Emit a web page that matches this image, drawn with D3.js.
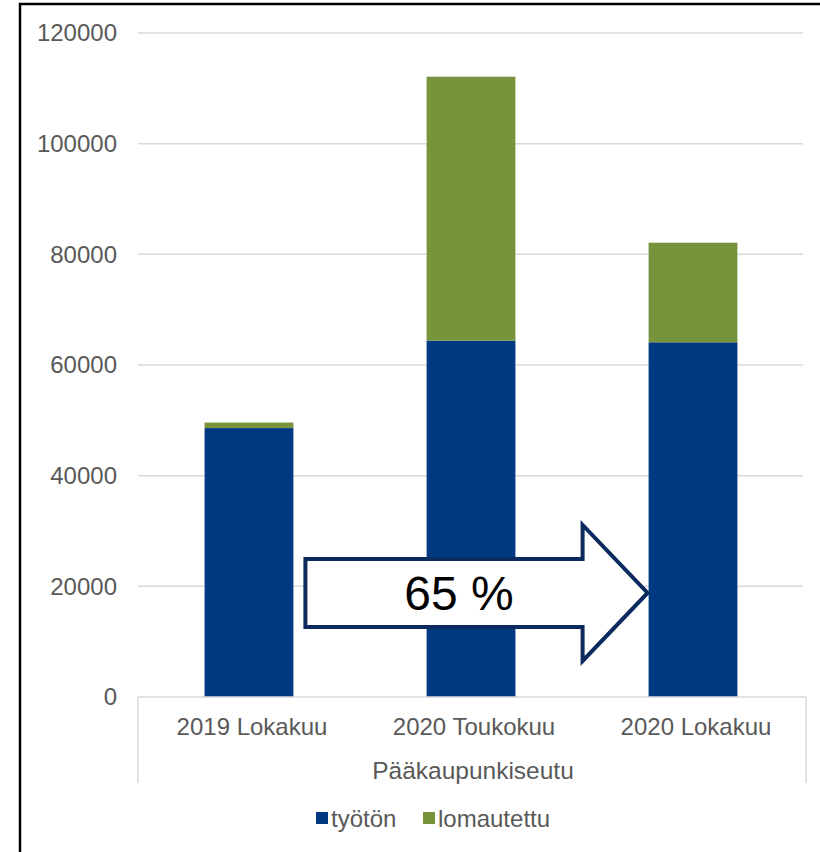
<!DOCTYPE html>
<html>
<head>
<meta charset="utf-8">
<style>
  body { margin: 0; background: #fff; }
  text { font-family: "Liberation Sans", Arial, sans-serif; }
</style>
</head>
<body>
<script src="https://cdn.jsdelivr.net/npm/d3@7"></script>
<script>
// data
var categories = ["2019 Lokakuu", "2020 Toukokuu", "2020 Lokakuu"];
var tyoton = [48600, 64400, 64100];
var lomautettu = [1000, 47700, 18000];
var seriesNames = ["työtön", "lomautettu"];
var yTicks = [0, 20000, 40000, 60000, 80000, 100000, 120000];
var groupLabel = "Pääkaupunkiseutu";
var arrowLabel = "65 %";
var arrowLevel = 18800;

var W = 820, H = 852;
var colors = ["#003882", "#77933c"];
var textColor = "#595959";

var svg = d3.select("body").append("svg")
  .attr("width", W).attr("height", H);

// outer frame (left + top visible)
svg.append("rect")
  .attr("x", 20).attr("y", 4)
  .attr("width", W + 10).attr("height", H + 10)
  .attr("fill", "none").attr("stroke", "#000").attr("stroke-width", 2.5);

var x = d3.scaleBand().domain(categories).range([138, 804])
  .paddingInner(0.6).paddingOuter(0.3);
var y = d3.scaleLinear().domain([0, 120000]).range([697, 33]);

// gridlines
svg.append("g").selectAll("line")
  .data(yTicks.slice(1))
  .enter().append("line")
  .attr("x1", 138).attr("x2", 803)
  .attr("y1", function(d) { return y(d); })
  .attr("y2", function(d) { return y(d); })
  .attr("stroke", "#d9d9d9").attr("stroke-width", 1.5);

// y axis labels
var yAxis = svg.append("g").attr("transform", "translate(117,0)")
  .call(d3.axisLeft(y).tickValues(yTicks).tickSize(0).tickPadding(0).tickFormat(d3.format("d")));
yAxis.select(".domain").remove();
yAxis.selectAll("text")
  .attr("font-size", 24).attr("fill", textColor)
  .style("font-family", "'Liberation Sans', Arial, sans-serif");

// stacked bars
var rows = categories.map(function(c, i) {
  return { cat: c, "työtön": tyoton[i], "lomautettu": lomautettu[i] };
});
var stacked = d3.stack().keys(seriesNames)(rows);

svg.append("g").selectAll("g")
  .data(stacked)
  .enter().append("g")
  .attr("fill", function(d, i) { return colors[i]; })
  .selectAll("rect")
  .data(function(d) { return d; })
  .enter().append("rect")
  .attr("x", function(d) { return x(d.data.cat); })
  .attr("width", x.bandwidth())
  .attr("y", function(d) { return y(d[1]); })
  .attr("height", function(d) { return y(d[0]) - y(d[1]); });

// category box (multi-level axis)
var boxLeft = 138, boxRight = 806, boxBottom = 783;
svg.append("line").attr("x1", boxLeft).attr("x2", boxRight)
  .attr("y1", y(0)).attr("y2", y(0))
  .attr("stroke", "#d9d9d9").attr("stroke-width", 1.5);
svg.append("line").attr("x1", boxLeft).attr("x2", boxLeft)
  .attr("y1", y(0)).attr("y2", boxBottom)
  .attr("stroke", "#d9d9d9").attr("stroke-width", 1.5);
svg.append("line").attr("x1", boxRight).attr("x2", boxRight)
  .attr("y1", y(0)).attr("y2", boxBottom)
  .attr("stroke", "#d9d9d9").attr("stroke-width", 1.5);

svg.append("g").selectAll("text")
  .data(categories)
  .enter().append("text")
  .attr("x", function(d) { return x(d) + x.bandwidth() / 2 + 3; })
  .attr("y", 735)
  .attr("text-anchor", "middle")
  .attr("font-size", 24).attr("fill", textColor)
  .text(function(d) { return d; });

svg.append("text")
  .attr("x", (boxLeft + boxRight) / 2 + 1).attr("y", 779)
  .attr("text-anchor", "middle")
  .attr("font-size", 24.5).attr("fill", textColor)
  .text(groupLabel);

// legend
var legendX = [316, 423];
var legend = svg.append("g").selectAll("g")
  .data(seriesNames)
  .enter().append("g")
  .attr("transform", function(d, i) { return "translate(" + legendX[i] + ",812)"; });
legend.append("rect")
  .attr("width", 12).attr("height", 12)
  .attr("fill", function(d, i) { return colors[i]; });
legend.append("text")
  .attr("x", 15).attr("y", 15)
  .attr("font-size", 24).attr("fill", textColor)
  .text(function(d) { return d; });

// arrow annotation
var ax0 = x(categories[0]) + x.bandwidth() + 12;
var tip = x(categories[2]) - 1;
var cy = y(arrowLevel);
var headStart = tip - 65;
var arrowPts = [
  [ax0, cy - 34], [headStart, cy - 34], [headStart, cy - 68],
  [tip, cy], [headStart, cy + 68], [headStart, cy + 34], [ax0, cy + 34]
];
svg.append("path")
  .attr("d", d3.line()(arrowPts) + "Z")
  .attr("fill", "#fff").attr("stroke", "#0b2a5e").attr("stroke-width", 4)
  .attr("stroke-linejoin", "miter");
svg.append("text")
  .attr("x", 459).attr("y", cy + 17)
  .attr("text-anchor", "middle")
  .attr("font-size", 48).attr("fill", "#000")
  .text(arrowLabel);
</script>
</body>
</html>
